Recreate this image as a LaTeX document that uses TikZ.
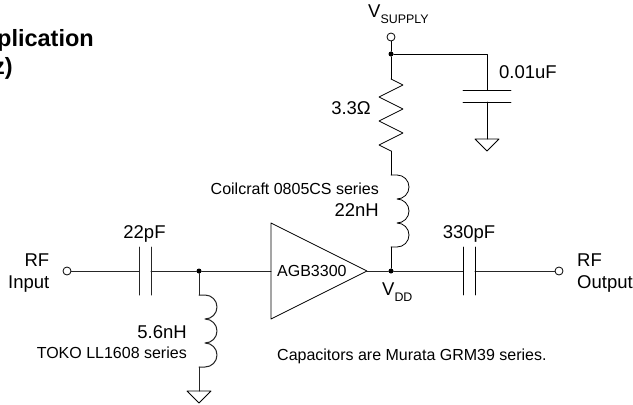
\documentclass[tikz,border=0pt]{standalone}
\usepackage{fontspec}
\setmainfont{Liberation Sans}
\tikzset{
  wire/.style={draw=black!85,line width=1pt,line cap=round,line join=round},
  thin wire/.style={draw=black,line width=0.8pt,line cap=round,line join=round},
  terminal/.style={circle,draw=black,line width=0.8pt,fill=white,inner sep=0pt,minimum size=8pt},
  junction/.style={circle,fill=black,inner sep=0pt,minimum size=5pt},
  big/.style={font=\fontsize{18.5}{20}\selectfont,inner sep=0pt},
  small/.style={font=\fontsize{16}{18}\selectfont,inner sep=0pt},
  head/.style={font=\fontsize{23.5}{26}\bfseries\selectfont,inner sep=0pt},
}
\newcommand{\coilseg}{arc[start angle=-90,end angle=90,radius=12]}
\newcommand{\subtext}[1]{\raisebox{-6pt}{\fontsize{12.4}{14}\selectfont #1}}
\begin{document}
\begin{tikzpicture}[x=1pt,y=-1pt]
\useasboundingbox (0,0) rectangle (633,405);
% connection points
\coordinate (c1a) at (139,271); \coordinate (c1b) at (151,271);
\coordinate (c2a) at (463,271); \coordinate (c2b) at (475,271);
\coordinate (c3a) at (487,90);  \coordinate (c3b) at (487,102);
\coordinate (ampin) at (271,271); \coordinate (ampout) at (367,271);
\coordinate (corner) at (487,54);
\coordinate (g1) at (199,391); \coordinate (g2) at (487,139);
\coordinate (l1top) at (391,175); \coordinate (l1bot) at (391,247);
\coordinate (l2top) at (199,295); \coordinate (l2bot) at (199,367);
\coordinate (rtop) at (391,79); \coordinate (rbot) at (391,151);
% terminals and junctions
\node[junction] (j1) at (199,271) {};
\node[junction] (j2) at (391,271) {};
\node[junction] (j3) at (391,54) {};
% wires
\draw[wire] (c1b) -- (j1) -- (ampin);
\draw[wire] (ampout) -- (j2) -- (c2a);
\draw[wire] (j1) -- (l2top);
\draw[wire] (l2bot) -- (g1);
\draw[thin wire] (j2) -- (l1bot);
\draw[thin wire] (l1top) -- (rbot);
\draw[thin wire] (rtop) -- (j3);
\draw[thin wire] (j3) -- (corner) -- (c3a);
\draw[thin wire] (c3b) -- (g2);
\node[terminal] (vs) at (391,37) {};
\draw[thin wire] (vs) -- (j3);
\node[terminal] (in) at (67,271) {};
\node[terminal] (out) at (559,271) {};
\draw[wire] (in) -- (c1a);
\draw[wire] (c2b) -- (out);
% capacitors
\draw[wire] (139,247) -- (139,295) (151,247) -- (151,295);
\draw[thin wire] (463,247) -- (463,295) (475,247) -- (475,295);
\draw[thin wire] (463,90) -- (511,90) (463,102) -- (511,102);
% resistor
\draw[thin wire] (rtop) -- (403,85) -- (379,97) -- (403,109) -- (379,121) -- (403,133) -- (379,145) -- (rbot);
% inductors
\draw[thin wire] (l1top) -- ++(6,0) \coilseg{} \coilseg{} \coilseg{} -- (l1bot);
\draw[wire] (l2top) -- ++(6,0) \coilseg{} \coilseg{} \coilseg{} -- (l2bot);
% grounds
\draw[thin wire] (g1) -- ++(-12,0) -- ++(12,12) -- ++(12,-12) -- cycle;
\draw[thin wire] (g2) -- ++(-12,0) -- ++(12,12) -- ++(12,-12) -- cycle;
% amplifier
\draw[thin wire] (271,223) -- (ampout) -- (271,319) -- cycle;
% labels
\node[big,anchor=base west] (tvs) at (368,17) {V\subtext{SUPPLY}};
\node[big,anchor=base west] (t001) at (499,78) {0.01uF};
\node[big,anchor=base east] (tr) at (371,114) {3.3Ω};
\node[small,anchor=base east] (tcoil) at (379,194) {Coilcraft 0805CS series};
\node[big,anchor=base east] (t22n) at (379,216) {22nH};
\node[big,anchor=base] (t22p) at (144.5,238) {22pF};
\node[big,anchor=base] (t330) at (469,238) {330pF};
\node[big,anchor=base east] (trf1) at (49.5,266) {RF};
\node[big,anchor=base east] (tinp) at (49.5,288) {Input};
\node[big,anchor=base west] (trf2) at (577,266) {RF};
\node[big,anchor=base west] (tout) at (577,288) {Output};
\node[small,anchor=base west] (tamp) at (277,276) {AGB3300};
\node[big,anchor=base east] (t56) at (187,338) {5.6nH};
\node[small,anchor=base east] (ttoko) at (187,358) {TOKO LL1608 series};
\node[small,anchor=base west] (tcap) at (277,360) {Capacitors are Murata GRM39 series.};
\node[big,anchor=base west] (tvdd) at (382,295) {V\subtext{DD}};
\begin{scope}
\clip (0,0) rectangle (633,405);
\node[head,anchor=base east] (th1) at (94,46) {plication};
\node[head,anchor=base east] (th2) at (13,74) {z)};
\end{scope}
\end{tikzpicture}
\end{document}
